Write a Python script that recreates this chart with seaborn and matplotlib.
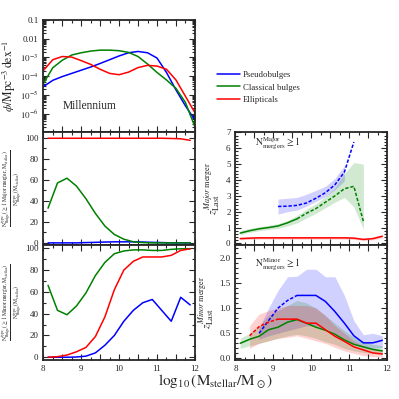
import numpy as np
import pandas as pd
import seaborn as sns
import matplotlib
matplotlib.use('Agg')
import matplotlib.pyplot as plt
from matplotlib.ticker import MultipleLocator, FixedLocator, FuncFormatter, LogLocator, NullFormatter

# ---------------- data ----------------
# mass function, log10(phi)
mass_phi = [8.0, 8.25, 8.5, 8.75, 9.0, 9.25, 9.5, 9.75, 10.0,
            10.25, 10.5, 10.75, 11.0, 11.25, 11.5, 11.75, 12.0]
logphi_pseudo = [-4.56, -4.22, -4.02, -3.85, -3.68, -3.51, -3.32, -3.12, -2.92,
                 -2.75, -2.68, -2.75, -3.03, -3.8, -4.73, -5.58, -6.34]
logphi_classical = [-4.4, -3.55, -3.15, -2.87, -2.75, -2.66, -2.61, -2.61, -2.64,
                    -2.73, -2.95, -3.35, -3.8, -4.2, -4.65, -5.4, -6.7]
logphi_ellip = [-3.7, -3.12, -2.95, -2.98, -3.17, -3.37, -3.63, -3.85, -3.92,
                -3.78, -3.54, -3.42, -3.46, -3.63, -4.2, -5.07, -5.95]

# fractions with >=1 major / minor merger (percent)
mass_bin = [8.125, 8.375, 8.625, 8.875, 9.125, 9.375, 9.625, 9.875,
            10.125, 10.375, 10.625, 10.875, 11.125, 11.375, 11.625, 11.875]
major_pseudo = [0, 0, 0, 0, 0.3, 0.5, 0.8, 1, 1, 1, 0.8, 0.5, 0.3, 0, 0, 0]
major_classical = [33, 57, 61.5, 54, 42, 28, 16, 8, 3.5, 1, 0.3, 0, 0, 0, 0, 0]
major_ellip = [99.5, 99.5, 99.5, 99.5, 99.5, 99.5, 99.5, 99.5,
               99.5, 99.5, 99.5, 99.5, 99.5, 99.3, 99, 97.5]
minor_pseudo = [0, 0, 0, 0.2, 1, 4, 11, 20, 33, 43, 50, 53, 43, 33, 55, 48]
minor_classical = [66, 43, 39, 47, 59, 75, 87, 95, 97.5, 98.5, 98.5, 98, 98, 99, 99.5, 99.5]
minor_ellip = [0, 0.5, 2, 5, 9, 19, 37, 62, 80, 88, 92, 92, 92, 93.5, 98, 99.5]

# redshift of last major merger (median and band)
zmaj_mass_pseudo = [9.125, 9.375, 9.625, 9.875, 10.125, 10.375, 10.625, 10.875, 11.125]
zmaj_pseudo = [2.33, 2.35, 2.4, 2.55, 2.85, 3.2, 3.7, 4.5, 6.4]
zmaj_pseudo_lo = [1.85, 2.0, 2.1, 2.35, 2.65, 2.95, 3.4, 3.95, np.nan]
zmaj_pseudo_hi = [2.8, 2.85, 2.9, 3.1, 3.35, 3.6, 4.1, 4.9, np.nan]

zmaj_mass_classical = mass_bin[:14]
zmaj_classical = [0.65, 0.8, 0.92, 1.0, 1.1, 1.3, 1.55, 1.9, 2.2, 2.6, 3.0, 3.45, 3.6, 1.4]
zmaj_classical_lo = [0.55, 0.7, 0.8, 0.88, 0.95, 1.1, 1.3, 1.6, 1.9, 2.25, 2.6, 2.9, 2.3, 0.9]
zmaj_classical_hi = [0.8, 0.95, 1.05, 1.15, 1.25, 1.45, 1.75, 2.15, 2.5, 2.95, 3.5, 4.4, 5.1, 5.0]

zmaj_ellip = [0.3, 0.33, 0.35, 0.35, 0.35, 0.35, 0.35, 0.35,
              0.35, 0.35, 0.35, 0.35, 0.33, 0.25, 0.3, 0.45]
zmaj_ellip_lo = [0.22, 0.25, 0.27, 0.27, 0.27, 0.27, 0.27, 0.27,
                 0.27, 0.27, 0.27, 0.27, 0.25, 0.18, 0.22, 0.35]
zmaj_ellip_hi = [0.4, 0.42, 0.44, 0.44, 0.44, 0.44, 0.44, 0.44,
                 0.44, 0.44, 0.44, 0.44, 0.42, 0.34, 0.4, 0.55]

# redshift of last minor merger
zmin_mass_pseudo = mass_bin[2:]
zmin_pseudo = [0.5, 0.75, 1.0, 1.15, 1.25, 1.25, 1.25, 1.13, 0.93, 0.7, 0.45, 0.31, 0.31, 0.36]
zmin_pseudo_lo = [0.38, 0.45, 0.5, 0.55, 0.6, 0.65, 0.65, 0.6, 0.5, 0.4, 0.3, 0.22, 0.2, 0.22]
zmin_pseudo_hi = [0.6, 1.0, 1.35, 1.62, 1.63, 1.77, 1.77, 1.62, 1.62, 1.25, 0.75, 0.47, 0.5, 0.45]

zmin_classical = [0.3, 0.38, 0.44, 0.57, 0.62, 0.72, 0.77, 0.7,
                  0.62, 0.56, 0.48, 0.37, 0.28, 0.23, 0.18, 0.15]
zmin_classical_lo = [0.2, 0.25, 0.3, 0.35, 0.4, 0.45, 0.48, 0.45,
                     0.4, 0.33, 0.28, 0.2, 0.15, 0.12, 0.1, 0.08]
zmin_classical_hi = [0.4, 0.5, 0.65, 0.85, 0.95, 1.05, 1.15, 1.1,
                     1.0, 0.85, 0.7, 0.55, 0.42, 0.34, 0.28, 0.25]

zmin_mass_ellip = mass_bin[1:]
zmin_ellip = [0.45, 0.63, 0.72, 0.78, 0.78, 0.78, 0.7, 0.7,
              0.57, 0.44, 0.34, 0.23, 0.17, 0.11, 0.09]
zmin_ellip_lo = [0.2, 0.3, 0.35, 0.4, 0.42, 0.45, 0.4, 0.35,
                 0.3, 0.22, 0.15, 0.1, 0.06, 0.04, 0.03]
zmin_ellip_hi = [0.65, 0.88, 0.95, 1.0, 1.05, 1.05, 1.05, 1.0,
                 0.85, 0.65, 0.5, 0.35, 0.25, 0.18, 0.15]

labels = ['Pseudobulges', 'Classical bulges', 'Ellipticals']
colors = {'Pseudobulges': '#0000ff', 'Classical bulges': '#008000', 'Ellipticals': '#ff0000'}

# ---------------- style ----------------
sns.set_style('ticks')
plt.rcParams['font.family'] = ['Liberation Serif', 'DejaVu Serif']
plt.rcParams['mathtext.fontset'] = 'stix'
plt.rcParams['axes.linewidth'] = 1.3
plt.rcParams['xtick.direction'] = 'in'
plt.rcParams['ytick.direction'] = 'in'
plt.rcParams['xtick.labelsize'] = 6.5
plt.rcParams['ytick.labelsize'] = 6.5
plt.rcParams['xtick.major.size'] = 4
plt.rcParams['ytick.major.size'] = 4
plt.rcParams['xtick.minor.size'] = 2
plt.rcParams['ytick.minor.size'] = 2

fig = plt.figure(figsize=(3.99, 3.99), dpi=100)
lx, w = 0.1085, 0.380
rx = 0.590
ax_phi = fig.add_axes([lx, 0.668, w, 0.282])
ax_maj = fig.add_axes([lx, 0.386, w, 0.282])
ax_min = fig.add_axes([lx, 0.0965, w, 0.2895])
ax_zmaj = fig.add_axes([rx, 0.386, w, 0.282])
ax_zmin = fig.add_axes([rx, 0.0965, w, 0.2895])


def line(ax, x, y, c, ls='-'):
    sns.lineplot(x=x, y=y, ax=ax, color=c, linestyle=ls, lw=1.1,
                 estimator=None, sort=False)


def band(ax, x, lo, hi, c):
    ax.fill_between(x, lo, hi, color=c, alpha=0.18, lw=0)


dash = (0, (2.2, 1.2))

# mass function
df_phi = pd.DataFrame({'mass': mass_phi * 3,
                       'phi': list(10 ** np.array(logphi_pseudo)) +
                              list(10 ** np.array(logphi_classical)) +
                              list(10 ** np.array(logphi_ellip)),
                       'type': [labels[0]] * 17 + [labels[1]] * 17 + [labels[2]] * 17})
sns.lineplot(data=df_phi, x='mass', y='phi', hue='type', palette=colors, ax=ax_phi,
             lw=1.1, legend=False)
ax_phi.set_yscale('log')
ax_phi.set_ylim(1e-7, 0.1)
ax_phi.yaxis.set_major_locator(FixedLocator([1e-6, 1e-5, 1e-4, 1e-3, 1e-2, 1e-1]))
ax_phi.yaxis.set_minor_locator(LogLocator(base=10, subs=np.arange(2, 10), numticks=20))
ax_phi.yaxis.set_minor_formatter(NullFormatter())


def phi_fmt(v, pos):
    if v >= 0.099:
        return '0.1'
    if v >= 0.0099:
        return '0.01'
    return r'$10^{%d}$' % int(round(np.log10(v)))


ax_phi.yaxis.set_major_formatter(FuncFormatter(phi_fmt))
ax_phi.set_ylabel(r'$\phi/\mathrm{Mpc}^{-3}\,\mathrm{dex}^{-1}$', fontsize=8.5, labelpad=1)
ax_phi.text(0.13, 0.235, 'Millennium', transform=ax_phi.transAxes, fontsize=8.3,
            va='center')

# major merger fraction
line(ax_maj, mass_bin, major_pseudo, colors[labels[0]])
line(ax_maj, mass_bin, major_classical, colors[labels[1]])
line(ax_maj, mass_bin, major_ellip, colors[labels[2]])
ax_maj.set_ylim(-2, 105)
ax_maj.yaxis.set_major_locator(MultipleLocator(20))
ax_maj.yaxis.set_minor_locator(MultipleLocator(10))
ax_maj.set_ylabel(r'$\frac{\mathrm{N^{type}_{Bulge}(\geq 1\ Major\ merger, M_{stellar})}}'
                  r'{\mathrm{N^{type}_{Bulge}(M_{stellar})}}$', fontsize=5.8)
ax_maj.yaxis.set_label_coords(-0.125, 0.5)

# minor merger fraction
line(ax_min, mass_bin, minor_pseudo, colors[labels[0]])
line(ax_min, mass_bin, minor_classical, colors[labels[1]])
line(ax_min, mass_bin, minor_ellip, colors[labels[2]])
ax_min.set_ylim(-3, 103)
ax_min.yaxis.set_major_locator(MultipleLocator(20))
ax_min.yaxis.set_minor_locator(MultipleLocator(10))
ax_min.set_ylabel(r'$\frac{\mathrm{N^{type}_{Bulge}(\geq 1\ Minor\ merger, M_{stellar})}}'
                  r'{\mathrm{N^{type}_{Bulge}(M_{stellar})}}$', fontsize=5.8)
ax_min.yaxis.set_label_coords(-0.125, 0.5)

# z last major merger
band(ax_zmaj, zmaj_mass_pseudo, zmaj_pseudo_lo, zmaj_pseudo_hi, colors[labels[0]])
band(ax_zmaj, zmaj_mass_classical, zmaj_classical_lo, zmaj_classical_hi, colors[labels[1]])
band(ax_zmaj, mass_bin, zmaj_ellip_lo, zmaj_ellip_hi, colors[labels[2]])
line(ax_zmaj, zmaj_mass_pseudo, zmaj_pseudo, colors[labels[0]], dash)
line(ax_zmaj, zmaj_mass_classical[:7], zmaj_classical[:7], colors[labels[1]])
line(ax_zmaj, zmaj_mass_classical[6:], zmaj_classical[6:], colors[labels[1]], dash)
line(ax_zmaj, mass_bin, zmaj_ellip, colors[labels[2]])
ax_zmaj.set_ylim(-0.1, 7)
ax_zmaj.yaxis.set_major_locator(MultipleLocator(1))
ax_zmaj.yaxis.set_minor_locator(MultipleLocator(0.2))
ax_zmaj.set_ylabel(r'$z_{\rm Last}^{Major\ \rm merger}$', fontsize=8.5, labelpad=2)
ax_zmaj.text(0.13, 0.9, r'$\rm N^{Major}_{mergers} \geq 1$', transform=ax_zmaj.transAxes,
             fontsize=7, va='center')

# z last minor merger
band(ax_zmin, zmin_mass_pseudo, zmin_pseudo_lo, zmin_pseudo_hi, colors[labels[0]])
band(ax_zmin, mass_bin, zmin_classical_lo, zmin_classical_hi, colors[labels[1]])
band(ax_zmin, zmin_mass_ellip, zmin_ellip_lo, zmin_ellip_hi, colors[labels[2]])
line(ax_zmin, zmin_mass_pseudo[:5], zmin_pseudo[:5], colors[labels[0]], dash)
line(ax_zmin, zmin_mass_pseudo[4:], zmin_pseudo[4:], colors[labels[0]])
line(ax_zmin, mass_bin, zmin_classical, colors[labels[1]])
line(ax_zmin, zmin_mass_ellip[:4], zmin_ellip[:4], colors[labels[2]], dash)
line(ax_zmin, zmin_mass_ellip[3:], zmin_ellip[3:], colors[labels[2]])
ax_zmin.set_ylim(-0.04, 2.25)
ax_zmin.yaxis.set_major_locator(MultipleLocator(0.5))
ax_zmin.yaxis.set_minor_locator(MultipleLocator(0.1))
ax_zmin.yaxis.set_major_formatter(FuncFormatter(lambda v, p: '%.1f' % v))
ax_zmin.set_ylabel(r'$z_{\rm Last}^{Minor\ \rm merger}$', fontsize=8.5, labelpad=2)
ax_zmin.text(0.13, 0.83, r'$\rm N^{Minor}_{mergers} \geq 1$', transform=ax_zmin.transAxes,
             fontsize=7, va='center')

for ax in [ax_phi, ax_maj, ax_min, ax_zmaj, ax_zmin]:
    ax.set_xlim(8, 12)
    ax.xaxis.set_major_locator(MultipleLocator(0.5))
    ax.xaxis.set_minor_locator(MultipleLocator(0.25))
    ax.xaxis.set_major_formatter(FuncFormatter(
        lambda v, p: '%d' % v if abs(v - round(v)) < 1e-6 else ''))
    ax.set_xlabel('')
    ax.tick_params(which='both', top=True, right=True, direction='in', width=0.8)
for ax in [ax_phi, ax_maj, ax_zmaj]:
    ax.tick_params(labelbottom=False)

fig.text(0.54, 0.045, r'$\log_{10}(\rm M_{stellar}/M_\odot)$', fontsize=11, ha='center',
         va='center')

handles = [plt.Line2D([], [], color=colors[l], lw=1.1) for l in labels]
fig.legend(handles, labels, loc='upper left', bbox_to_anchor=(0.535, 0.83), frameon=False,
           fontsize=6.3, handlelength=2.6, labelspacing=0.45, handletextpad=0.4,
           borderaxespad=0)

fig.savefig('out.png', dpi=100)
